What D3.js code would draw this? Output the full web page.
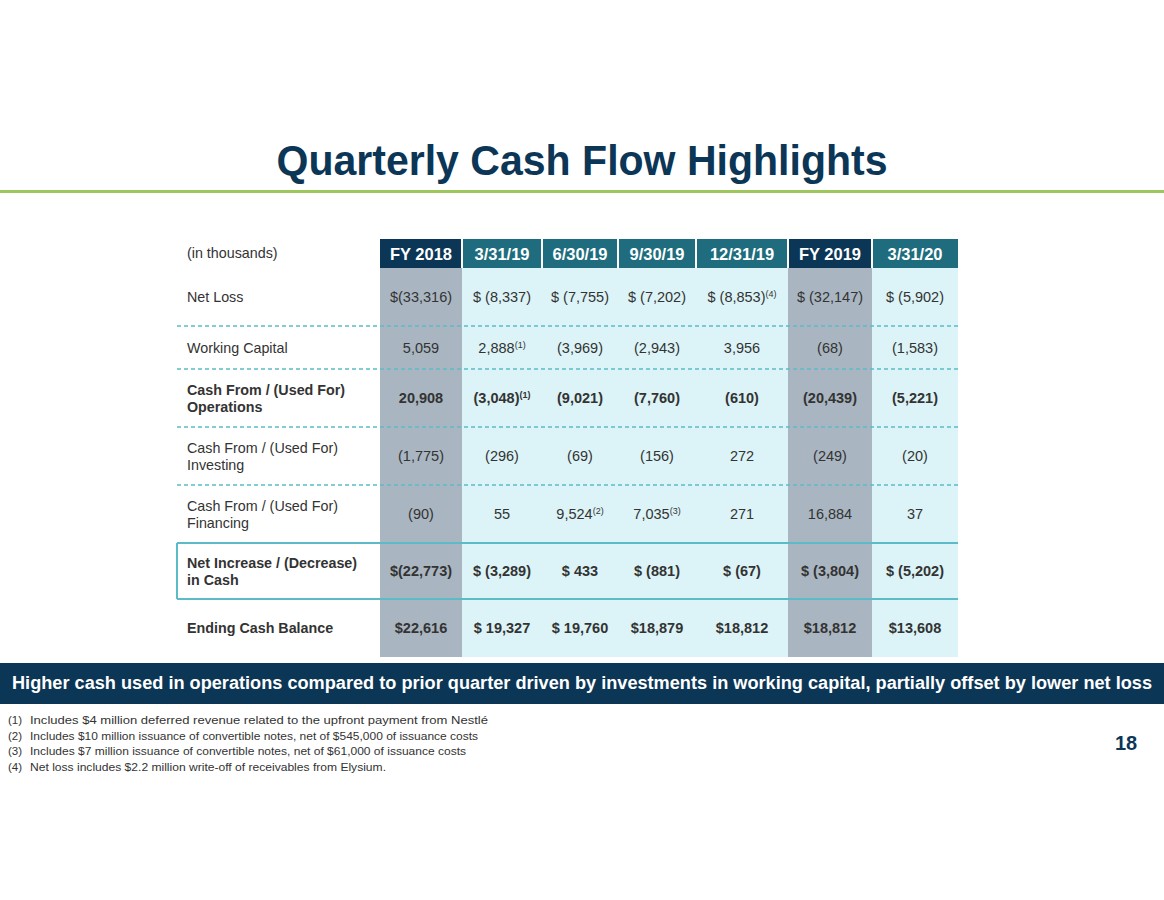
<!DOCTYPE html>
<html lang="en">
<head>
    <meta charset="UTF-8">
    <script src="https://d3js.org/d3.v7.min.js"></script>
    <style>
        body {
            margin: 0;
            background: #fff;
            font-family: "Liberation Sans", Arial, sans-serif;
        }
        .lbl { font-size: 14.3px; fill: #333; }
        .val { font-size: 14.5px; fill: #333; }
        .b { font-weight: bold; }
    </style>
</head>
<body>
    <div id="chart"></div>

    <script>
        // column headers
        const columns = ["FY 2018", "3/31/19", "6/30/19", "9/30/19", "12/31/19", "FY 2019", "3/31/20"];
        const isFY = [true, false, false, false, false, true, false];

        // row labels
        const rowLabels = [
            ["Net Loss"],
            ["Working Capital"],
            ["Cash From / (Used For)", "Operations"],
            ["Cash From / (Used For)", "Investing"],
            ["Cash From / (Used For)", "Financing"],
            ["Net Increase / (Decrease)", "in Cash"],
            ["Ending Cash Balance"]
        ];
        const rowBold = [false, false, true, false, false, true, true];

        // values (in thousands)
        const netLoss = [-33316, -8337, -7755, -7202, -8853, -32147, -5902];
        const workingCapital = [5059, 2888, -3969, -2943, 3956, -68, -1583];
        const cashOperations = [20908, -3048, -9021, -7760, -610, -20439, -5221];
        const cashInvesting = [-1775, -296, -69, -156, 272, -249, -20];
        const cashFinancing = [-90, 55, 9524, 7035, 271, 16884, 37];
        const netChange = [-22773, -3289, 433, -881, -67, -3804, -5202];
        const endingCash = [22616, 19327, 19760, 18879, 18812, 18812, 13608];

        // dollar sign prefix per cell ("" = none)
        const netLossDollar = ["$", "$ ", "$ ", "$ ", "$ ", "$ ", "$ "];
        const netChangeDollar = ["$", "$ ", "$ ", "$ ", "$ ", "$ ", "$ "];
        const endingCashDollar = ["$", "$ ", "$ ", "$", "$", "$", "$"];
        const noDollar = ["", "", "", "", "", "", ""];

        // footnote marks
        const netLossNotes = ["", "", "", "", "(4)", "", ""];
        const workingCapitalNotes = ["", "(1)", "", "", "", "", ""];
        const cashOperationsNotes = ["", "(1)", "", "", "", "", ""];
        const cashFinancingNotes = ["", "", "(2)", "(3)", "", "", ""];
        const noNotes = ["", "", "", "", "", "", ""];

        const footnotes = [
            "Includes $4 million deferred revenue related to the upfront payment from Nestlé",
            "Includes $10 million issuance of convertible notes, net of $545,000 of issuance costs",
            "Includes $7 million issuance of convertible notes, net of $61,000 of issuance costs",
            "Net loss includes $2.2 million write-off of receivables from Elysium."
        ];

        const title = "Quarterly Cash Flow Highlights";
        const banner = "Higher cash used in operations compared to prior quarter driven by investments in working capital, partially offset by lower net loss";
        const pageNum = "18";

        const rowValues = [netLoss, workingCapital, cashOperations, cashInvesting, cashFinancing, netChange, endingCash];
        const rowDollar = [netLossDollar, noDollar, noDollar, noDollar, noDollar, netChangeDollar, endingCashDollar];
        const rowNotes = [netLossNotes, workingCapitalNotes, cashOperationsNotes, noNotes, cashFinancingNotes, noNotes, noNotes];
        const rowLine = ["dash", "dash", "dash", "dash", "solid", "solid", "none"];

        // layout
        const W = 1164, H = 900;
        const navy = "#0c3656", teal = "#1e6c7d", cyan = "#dcf3f7", gray = "#a9b6c1", lineCol = "#5bbcc8";
        const colWidths = [82, 80, 76, 78, 92, 84, 86];
        const rowHeights = [58, 43, 58, 58, 58, 56, 58];
        const tableLeft = 177, labelX = 187, colLeft = 380, headTop = 239, headBottom = 268;
        const footWidths = [458, 448, 436, 356];

        const colEdges = [0, ...d3.cumsum(colWidths)];
        const rowEdges = [0, ...d3.cumsum(rowHeights)];
        const x = d3.scaleLinear().domain([0, d3.sum(colWidths)]).range([colLeft, colLeft + d3.sum(colWidths)]);
        const y = d3.scaleLinear().domain([0, d3.sum(rowHeights)]).range([headBottom, headBottom + d3.sum(rowHeights)]);
        const tableRight = x(d3.sum(colWidths));

        const fmt = d3.format(",");
        const cellText = (v, pre) => pre + (v < 0 ? "(" + fmt(-v) + ")" : fmt(v));

        const svg = d3.select("#chart").append("svg")
            .attr("width", W).attr("height", H);

        // title
        svg.append("text")
            .attr("x", W / 2).attr("y", 175)
            .attr("text-anchor", "middle")
            .attr("textLength", 611).attr("lengthAdjust", "spacingAndGlyphs")
            .style("font-size", "43px").style("font-weight", "bold").style("fill", navy)
            .text(title);
        svg.append("rect").attr("x", 0).attr("y", 190).attr("width", W).attr("height", 3).attr("fill", "#9dc75b");

        // column backgrounds
        svg.selectAll(".colbg").data(columns).enter().append("rect")
            .attr("x", (d, i) => x(colEdges[i]))
            .attr("y", headBottom)
            .attr("width", (d, i) => colWidths[i])
            .attr("height", y(rowEdges[rowEdges.length - 1]) - headBottom)
            .attr("fill", (d, i) => isFY[i] ? gray : cyan);

        // headers
        svg.selectAll(".head").data(columns).enter().append("rect")
            .attr("x", (d, i) => x(colEdges[i]) + (i > 0 ? 1 : 0))
            .attr("y", headTop)
            .attr("width", (d, i) => colWidths[i] - (i > 0 ? 1 : 0) - (i < columns.length - 1 ? 1 : 0))
            .attr("height", headBottom - headTop)
            .attr("fill", (d, i) => isFY[i] ? navy : teal);
        svg.selectAll(".headtxt").data(columns).enter().append("text")
            .attr("x", (d, i) => x(colEdges[i] + colWidths[i] / 2))
            .attr("y", (headTop + headBottom) / 2 + 6)
            .attr("text-anchor", "middle")
            .style("font-size", "16.5px").style("font-weight", "bold").style("fill", "#fff")
            .text(d => d);
        svg.append("text").attr("class", "lbl")
            .attr("x", labelX).attr("y", (headTop + headBottom) / 2 + 4)
            .text("(in thousands)");

        // row lines
        rowLine.forEach((t, r) => {
            if (t === "none") return;
            const ly = y(rowEdges[r + 1]);
            svg.append("line")
                .attr("x1", tableLeft).attr("x2", tableRight)
                .attr("y1", ly).attr("y2", ly)
                .attr("stroke", lineCol)
                .attr("stroke-width", t === "dash" ? 1.3 : 2)
                .attr("stroke-dasharray", t === "dash" ? "4,3" : null);
        });
        // outline for net change label cell
        svg.append("line")
            .attr("x1", tableLeft).attr("x2", tableLeft)
            .attr("y1", y(rowEdges[5])).attr("y2", y(rowEdges[6]))
            .attr("stroke", lineCol).attr("stroke-width", 2);

        // labels and values
        rowLabels.forEach((lines, r) => {
            const cy = y((rowEdges[r] + rowEdges[r + 1]) / 2);
            const t = svg.append("text").attr("class", "lbl" + (rowBold[r] ? " b" : ""))
                .attr("x", labelX).attr("y", cy + 5 - (lines.length - 1) * 8.5);
            lines.forEach((s, k) => t.append("tspan").attr("x", labelX).attr("dy", k ? 17 : 0).text(s));

            rowValues[r].forEach((v, c) => {
                const tx = svg.append("text").attr("class", "val" + (rowBold[r] ? " b" : ""))
                    .attr("x", x(colEdges[c] + colWidths[c] / 2))
                    .attr("y", cy + 5)
                    .attr("text-anchor", "middle");
                tx.append("tspan").text(cellText(v, rowDollar[r][c]));
                const n = rowNotes[r][c];
                if (n) {
                    tx.append("tspan").attr("dy", -5).style("font-size", "9px").text(n);
                }
            });
        });

        // banner
        svg.append("rect").attr("x", 0).attr("y", 663).attr("width", W).attr("height", 41).attr("fill", navy);
        svg.append("text")
            .attr("x", W / 2).attr("y", 689)
            .attr("text-anchor", "middle")
            .attr("textLength", 1140).attr("lengthAdjust", "spacingAndGlyphs")
            .style("font-size", "17.5px").style("font-weight", "bold").style("fill", "#fff")
            .text(banner);

        // footnotes
        footnotes.forEach((s, i) => {
            const fy = 724 + i * 15.5;
            svg.append("text").attr("x", 8).attr("y", fy)
                .style("font-size", "11.5px").style("fill", "#333").text(`(${i + 1})`);
            svg.append("text").attr("x", 30).attr("y", fy)
                .attr("textLength", footWidths[i]).attr("lengthAdjust", "spacingAndGlyphs")
                .style("font-size", "11.5px").style("fill", "#333").text(s);
        });

        svg.append("text").attr("x", 1126).attr("y", 750)
            .attr("text-anchor", "middle")
            .style("font-size", "20px").style("font-weight", "bold").style("fill", navy)
            .text(pageNum);
    </script>
</body>
</html>
